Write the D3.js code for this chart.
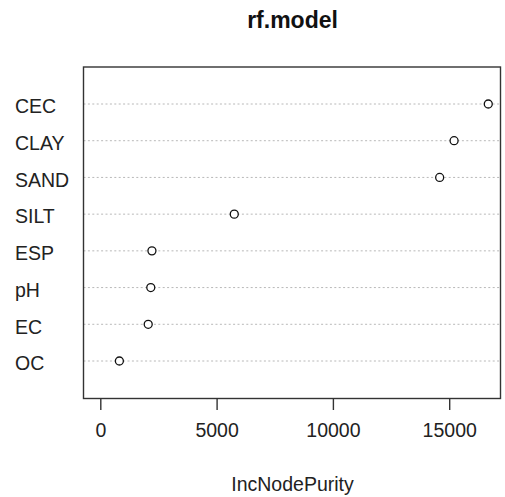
<!DOCTYPE html>
<html>
<head>
<meta charset="utf-8">
<script src="https://cdn.jsdelivr.net/npm/d3@7"></script>
<style>
  body { margin: 0; background: #fff; }
  text { font-family: "Liberation Sans", Arial, sans-serif; }
</style>
</head>
<body>
<script>
// variable importance, top to bottom
var variables = ["CEC", "CLAY", "SAND", "SILT", "ESP", "pH", "EC", "OC"];
var purity = [16680, 15210, 14590, 5760, 2220, 2170, 2060, 820];
var xTicks = [0, 5000, 10000, 15000];

var width = 505, height = 497;
var box = { left: 83.5, right: 500.5, top: 67, bottom: 398.5 };

var svg = d3.select("body").append("svg")
    .attr("width", width)
    .attr("height", height);

var xScale = d3.scaleLinear()
    .domain([0, 5000])
    .range([100.3, 216.6]);

var yScale = d3.scalePoint()
    .domain(variables)
    .range([104, 361]);

// dotted guide lines
svg.selectAll(".guide")
    .data(variables)
    .enter().append("line")
    .attr("x1", box.left)
    .attr("x2", box.right)
    .attr("y1", function(d) { return yScale(d) })
    .attr("y2", function(d) { return yScale(d) })
    .style("stroke", "#b8b8b8")
    .style("stroke-width", 1)
    .style("stroke-dasharray", "2,2.4");

// labels on the left
svg.selectAll(".lab")
    .data(variables)
    .enter().append("text")
    .attr("x", 15)
    .attr("y", function(d) { return yScale(d) + 9.3 })
    .style("font-size", "19.5px")
    .style("fill", "#222")
    .text(function(d) { return d });

// points
svg.selectAll(".pt")
    .data(purity)
    .enter().append("circle")
    .attr("cx", function(d) { return xScale(d) })
    .attr("cy", function(d, i) { return yScale(variables[i]) })
    .attr("r", 4)
    .style("fill", "#fff")
    .style("stroke", "#111")
    .style("stroke-width", 1.3);

// box
svg.append("rect")
    .attr("x", box.left)
    .attr("y", box.top)
    .attr("width", box.right - box.left)
    .attr("height", box.bottom - box.top)
    .style("fill", "none")
    .style("stroke", "#333")
    .style("stroke-width", 1.4);

// bottom axis
var axis = svg.append("g")
    .attr("transform", "translate(0," + box.bottom + ")")
    .call(d3.axisBottom(xScale)
        .tickValues(xTicks)
        .tickSize(11.5)
        .tickPadding(13)
        .tickFormat(d3.format("d")));
axis.select(".domain").remove();
axis.selectAll(".tick line").style("stroke", "#333").style("stroke-width", 1.4);
axis.selectAll(".tick text")
    .style("font-size", "19.5px")
    .style("font-family", "Liberation Sans, Arial, sans-serif")
    .style("fill", "#222");

// title
svg.append("text")
    .attr("x", 292.5)
    .attr("y", 28)
    .attr("text-anchor", "middle")
    .style("font-size", "23px")
    .style("font-weight", "bold")
    .style("fill", "#111")
    .text("rf.model");

// x label
svg.append("text")
    .attr("x", 292.5)
    .attr("y", 491)
    .attr("text-anchor", "middle")
    .style("font-size", "19.5px")
    .style("fill", "#222")
    .text("IncNodePurity");
</script>
</body>
</html>
